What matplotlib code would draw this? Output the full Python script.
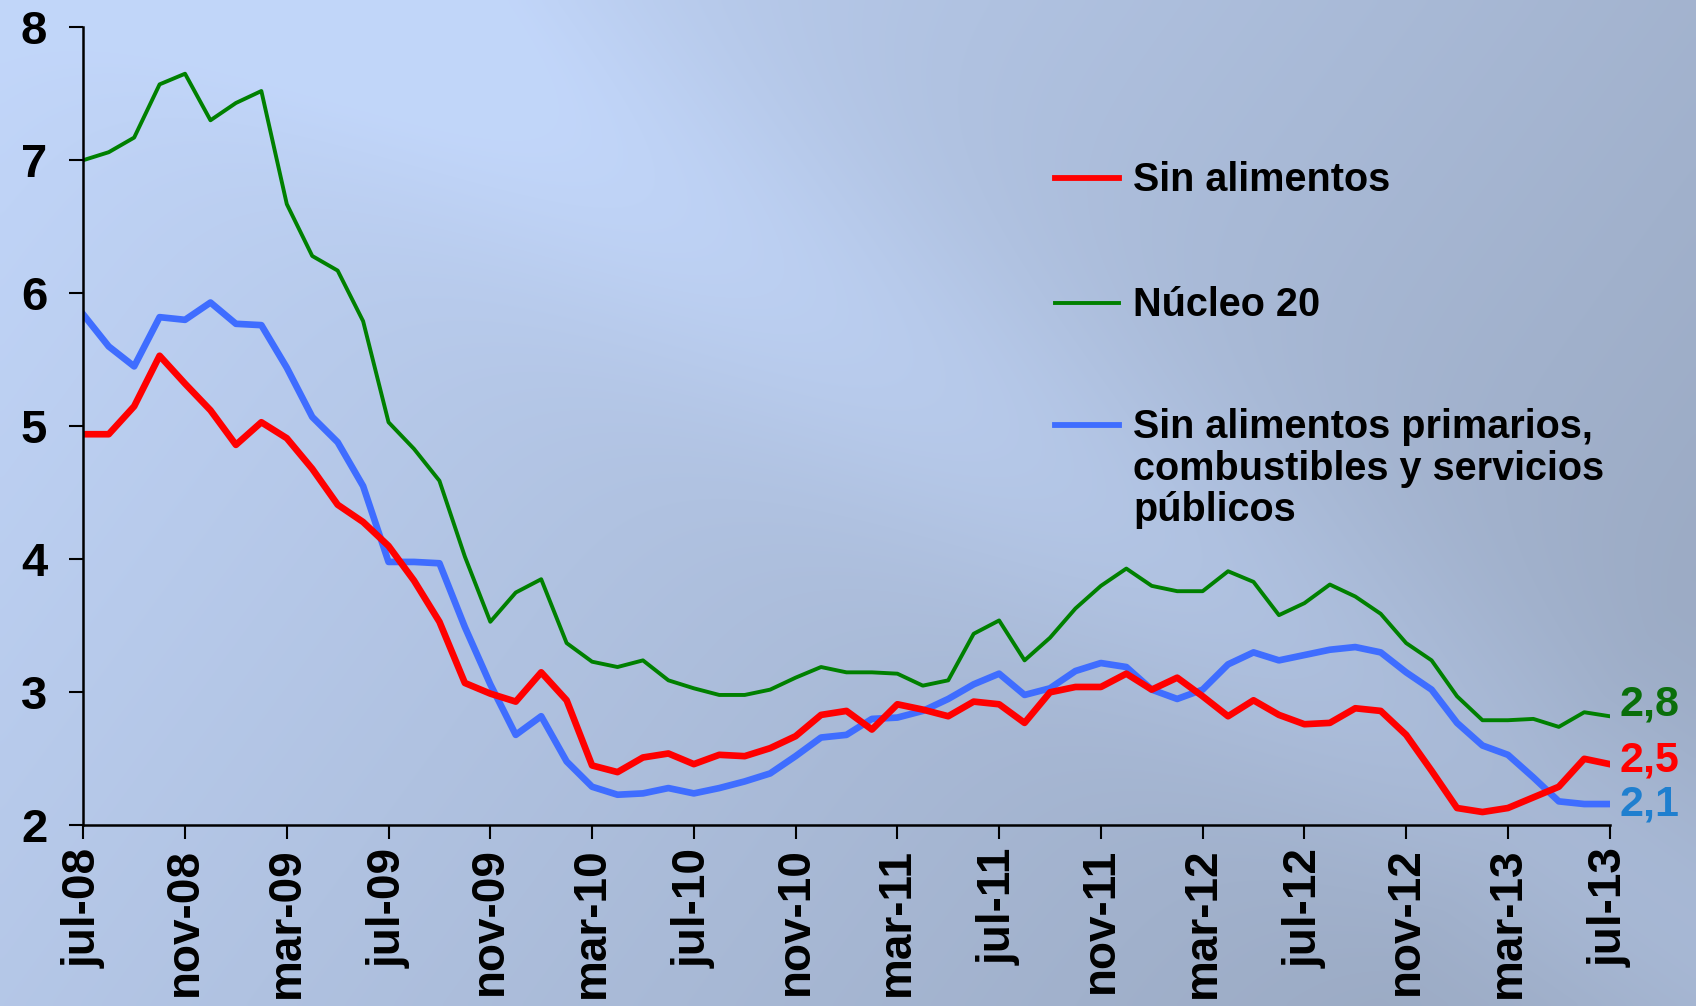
import numpy as np
import matplotlib
matplotlib.use("Agg")
import matplotlib.pyplot as plt
from matplotlib.lines import Line2D

# ---- data ----
months = ["jul-08", "nov-08", "mar-09", "jul-09", "nov-09", "mar-10", "jul-10", "nov-10",
          "mar-11", "jul-11", "nov-11", "mar-12", "jul-12", "nov-12", "mar-13", "jul-13"]

nucleo20 = [7.00, 7.06, 7.17, 7.57, 7.65, 7.30, 7.43, 7.52, 6.67, 6.28, 6.17, 5.79, 5.03, 4.83,
            4.59, 4.02, 3.53, 3.75, 3.85, 3.37, 3.23, 3.19, 3.24, 3.09, 3.03, 2.98, 2.98, 3.02,
            3.11, 3.19, 3.15, 3.15, 3.14, 3.05, 3.09, 3.44, 3.54, 3.24, 3.41, 3.63, 3.80, 3.93,
            3.80, 3.76, 3.76, 3.91, 3.83, 3.58, 3.67, 3.81, 3.72, 3.59, 3.37, 3.24, 2.97, 2.79,
            2.79, 2.80, 2.74, 2.85, 2.82]

sin_alimentos = [4.94, 4.94, 5.15, 5.53, 5.32, 5.12, 4.86, 5.03, 4.91, 4.68, 4.41, 4.28, 4.10,
                 3.84, 3.53, 3.07, 2.99, 2.93, 3.15, 2.94, 2.45, 2.40, 2.51, 2.54, 2.46, 2.53,
                 2.52, 2.58, 2.67, 2.83, 2.86, 2.72, 2.91, 2.87, 2.82, 2.93, 2.91, 2.77, 3.00,
                 3.04, 3.04, 3.14, 3.02, 3.11, 2.97, 2.82, 2.94, 2.83, 2.76, 2.77, 2.88, 2.86,
                 2.68, 2.41, 2.13, 2.10, 2.13, 2.21, 2.29, 2.50, 2.46]

sin_primarios = [5.84, 5.60, 5.45, 5.82, 5.80, 5.93, 5.77, 5.76, 5.44, 5.07, 4.88, 4.55, 3.98,
                 3.98, 3.97, 3.49, 3.06, 2.68, 2.82, 2.48, 2.29, 2.23, 2.24, 2.28, 2.24, 2.28,
                 2.33, 2.39, 2.52, 2.66, 2.68, 2.80, 2.81, 2.86, 2.95, 3.06, 3.14, 2.98, 3.03,
                 3.16, 3.22, 3.19, 3.02, 2.95, 3.02, 3.21, 3.30, 3.24, 3.28, 3.32, 3.34, 3.30,
                 3.15, 3.02, 2.77, 2.60, 2.53, 2.36, 2.18, 2.16, 2.16]

legend_labels = ["Sin alimentos", "Núcleo 20",
                 "Sin alimentos primarios,\ncombustibles y servicios\npúblicos"]
end_labels = ["2,8", "2,5", "2,1"]
end_label_y = [2.91, 2.49, 2.16]

C_RED = "#ff0000"
C_GREEN = "#008000"
C_BLUE = "#3f6dff"

plt.rcParams['font.family'] = ['Liberation Sans', 'DejaVu Sans']

fig = plt.figure(figsize=(16.96, 10.06), dpi=100)

# background gradient
bg = fig.add_axes([0, 0, 1, 1], zorder=-10)
bg.axis("off")
H, W = 200, 340
yy, xx = np.mgrid[0:1:H*1j, 0:1:W*1j]
light = np.array([0.76, 0.84, 0.98])
dark = np.array([0.61, 0.67, 0.77])
t = np.clip(0.8 * xx + 0.35 * yy, 0, 1)
d = (xx - 0.22) - 0.85 * yy  # diagonal band
band = np.exp(-(d / 0.16) ** 2) * 0.3
t = np.clip(t - band, 0, 1)
img = light[None, None, :] * (1 - t[..., None]) + dark[None, None, :] * t[..., None]
bg.imshow(img, aspect="auto", extent=[0, 1, 0, 1], interpolation="bicubic")
bg.set_xlim(0, 1); bg.set_ylim(0, 1)

ax = fig.add_axes([0.0491, 0.1796, 0.9, 0.7934])
ax.patch.set_alpha(0)

x = np.arange(len(nucleo20))
ax.plot(x, nucleo20, color=C_GREEN, lw=2.8)
ax.plot(x, sin_primarios, color=C_BLUE, lw=4.8)
ax.plot(x, sin_alimentos, color=C_RED, lw=4.8)

ax.set_xlim(0, len(nucleo20) - 1)
ax.set_ylim(2, 8)
ax.set_yticks(range(2, 9))
ax.set_xticks(np.arange(0, len(nucleo20), 4))
ax.set_xticklabels(months, rotation=90, fontsize=33, fontweight="bold")
ax.tick_params(axis="y", labelsize=34, length=10, width=1.5, pad=16)
ax.tick_params(axis="x", length=10, width=1.5, pad=6)
for lab in ax.get_yticklabels():
    lab.set_fontweight("bold")
for s in ["top", "right"]:
    ax.spines[s].set_visible(False)
for s in ["left", "bottom"]:
    ax.spines[s].set_linewidth(1.8)

# end labels
end_colors = ["#0a6e0a", "#ff0000", "#1f7fcf"]
for lab, yv, c in zip(end_labels, end_label_y, end_colors):
    ax.annotate(lab, xy=(len(nucleo20) - 1, yv), xytext=(7, 0), textcoords="offset points",
                va="center", ha="left", fontsize=31, fontweight="bold", color=c,
                annotation_clip=False)

# legend (manual)
leg_colors = [C_RED, C_GREEN, C_BLUE]
leg_lw = [4.2, 2.8, 4.2]
leg_y = [0.8226, 0.6989, 0.5775]
for lab, c, lw, yv in zip(legend_labels, leg_colors, leg_lw, leg_y):
    fig.add_artist(Line2D([0.622, 0.660], [yv, yv], color=c, lw=lw, transform=fig.transFigure))
    fig.text(0.668, yv + 0.017, lab, ha="left", va="top", fontsize=28.5, fontweight="bold",
             linespacing=1.12)

fig.savefig("out.png", dpi=100)
